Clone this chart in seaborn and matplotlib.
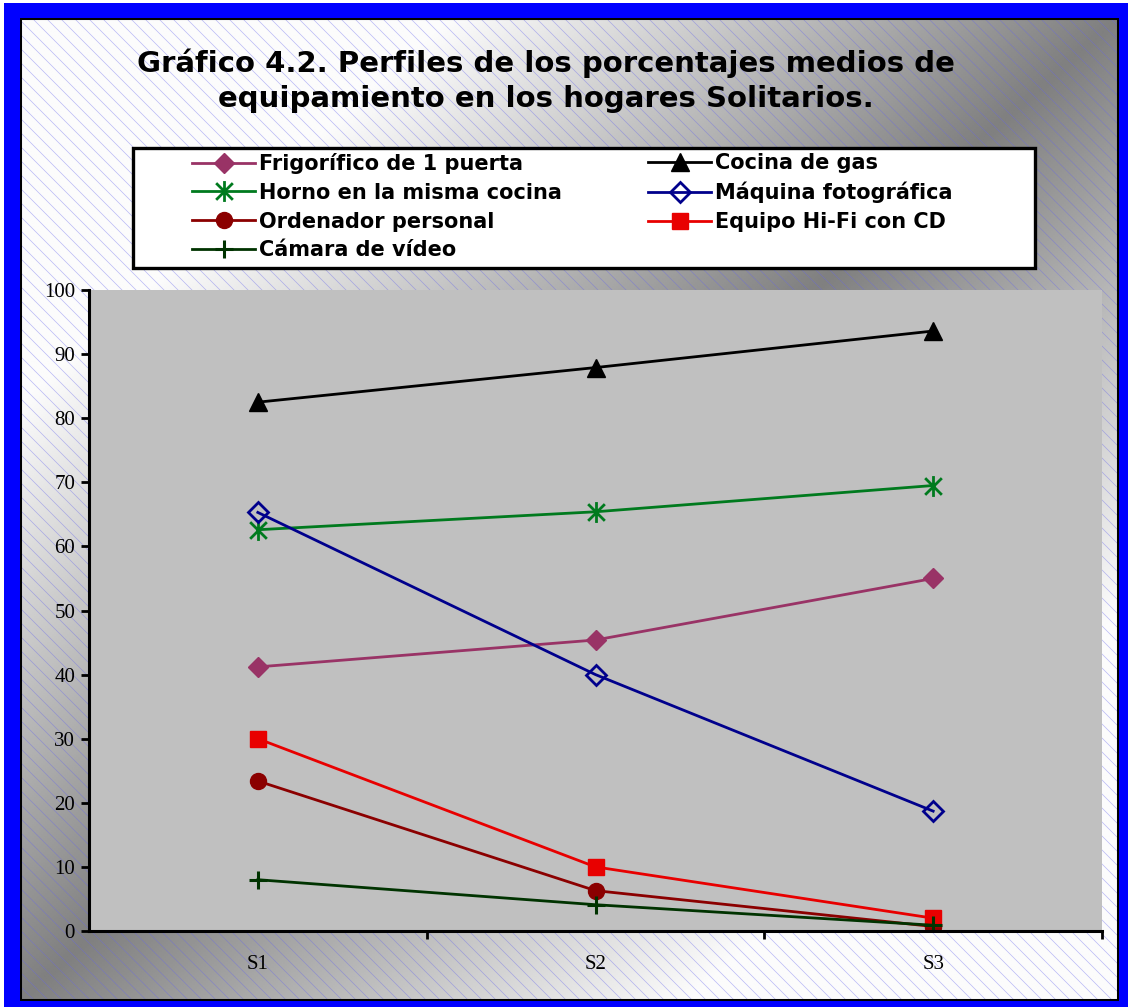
import numpy as np
import pandas as pd
import matplotlib
matplotlib.use("Agg")
import matplotlib.pyplot as plt
from matplotlib.path import Path
from matplotlib.patches import Rectangle
from matplotlib.collections import LineCollection
import seaborn as sns

# ---- data -------------------------------------------------------------
segmentos = ["S1", "S2", "S3"]

frigorifico_1_puerta = [41.2, 45.4, 55.0]
cocina_de_gas = [82.5, 87.9, 93.6]
horno_misma_cocina = [62.6, 65.4, 69.5]
maquina_fotografica = [65.3, 40.0, 18.7]
ordenador_personal = [23.4, 6.3, 0.7]
equipo_hifi_cd = [30.0, 10.0, 2.0]
camara_de_video = [8.0, 4.1, 0.9]

series_nombres = [
    "Frigorífico de 1 puerta",
    "Cocina de gas",
    "Horno en la misma cocina",
    "Máquina fotográfica",
    "Ordenador personal",
    "Equipo Hi-Fi con CD",
    "Cámara de vídeo",
]
series_valores = [
    frigorifico_1_puerta,
    cocina_de_gas,
    horno_misma_cocina,
    maquina_fotografica,
    ordenador_personal,
    equipo_hifi_cd,
    camara_de_video,
]

titulo = ("Gráfico 4.2. Perfiles de los porcentajes medios de\n"
          "equipamiento en los hogares Solitarios.")

df = pd.DataFrame(
    [(n, s, v) for n, vals in zip(series_nombres, series_valores)
     for s, v in zip(segmentos, vals)],
    columns=["serie", "segmento", "valor"],
)

# asterisk marker: vertical bar plus two diagonals
asterisco = Path(
    [(0, -1), (0, 1), (-0.8, -0.8), (0.8, 0.8), (-0.8, 0.8), (0.8, -0.8)],
    [Path.MOVETO, Path.LINETO, Path.MOVETO, Path.LINETO, Path.MOVETO, Path.LINETO],
)

estilos = {
    "Frigorífico de 1 puerta": dict(color="#993366", marker="D", ms=10.5, mfc="#993366", mec="#993366", mew=1),
    "Cocina de gas": dict(color="#000000", marker="^", ms=13, mfc="#000000", mec="#000000", mew=1),
    "Horno en la misma cocina": dict(color="#007A1E", marker=asterisco, ms=15, mfc="none", mec="#007A1E", mew=2),
    "Máquina fotográfica": dict(color="#00008C", marker="D", ms=10, mfc="none", mec="#00008C", mew=2),
    "Ordenador personal": dict(color="#8B0000", marker="o", ms=11.5, mfc="#8B0000", mec="#8B0000", mew=1),
    "Equipo Hi-Fi con CD": dict(color="#E80000", marker="s", ms=11, mfc="#E80000", mec="#E80000", mew=1),
    "Cámara de vídeo": dict(color="#003300", marker="+", ms=13.5, mfc="none", mec="#003300", mew=2.2),
}

W, H = 1128, 1007
fig = plt.figure(figsize=(W / 100, H / 100), dpi=100)
fig.patch.set_facecolor("white")

# ---- background: diagonal gradient with light hatching, framed ----------
bg = fig.add_axes([0, 0, 1, 1], zorder=0)
bg.set_xlim(0, W)
bg.set_ylim(H, 0)
bg.axis("off")

x0, y0, x1, y1 = 20, 18, 1118, 1000
gx = np.linspace(0, 1, 500)
gy = np.linspace(0, 1, 500)
GX, GY = np.meshgrid(gx, gy)
t = np.abs(GX + GY - 1.0)           # 0 along the anti-diagonal, 1 at the corners
shade = np.clip(0.50 + 0.80 * t, 0, 0.985)
bg.imshow(shade, cmap="gray", vmin=0, vmax=1, extent=(x0, x1, y1, y0),
          interpolation="bilinear", aspect="auto", zorder=0)

paso = 14
segs = []
for c in np.arange(x0 - (y1 - y0), x1 + paso, paso):
    segs.append([(c, y0), (c + (y1 - y0), y1)])
hatch = LineCollection(segs, colors="#6666EE", linewidths=0.5, alpha=0.45, zorder=1)
bg.add_collection(hatch)
hatch.set_clip_path(Rectangle((x0, y0), x1 - x0, y1 - y0, transform=bg.transData))

bg.add_patch(Rectangle((x0, y0), x1 - x0, y1 - y0, fill=False, ec="black", lw=2.2, zorder=3))
# blue outer border
azul = "#0000FF"
bg.add_patch(Rectangle((4, 3), W, 15, color=azul, lw=0, zorder=3))
bg.add_patch(Rectangle((4, 3), 15.5, H, color=azul, lw=0, zorder=3))
bg.add_patch(Rectangle((1119.2, 3), 20, H, color=azul, lw=0, zorder=3))
bg.add_patch(Rectangle((4, 1001.2), W, 20, color=azul, lw=0, zorder=3))

# legend box
bg.add_patch(Rectangle((133, 148), 1035 - 133, 268 - 148, fc="white", ec="black", lw=2.4, zorder=4))

# ---- chart ------------------------------------------------------------
ax_l, ax_r, ax_t, ax_b = 89, 1102, 290, 931
ax = fig.add_axes([ax_l / W, (H - ax_b) / H, (ax_r - ax_l) / W, (ax_b - ax_t) / H], zorder=2)
ax.set_facecolor("#C0C0C0")

for nombre in series_nombres:
    st = estilos[nombre]
    sns.lineplot(
        data=df[df["serie"] == nombre], x="segmento", y="valor", ax=ax,
        color=st["color"], linewidth=2.0, marker=st["marker"],
        markersize=st["ms"], markerfacecolor=st["mfc"], markeredgecolor=st["mec"],
        markeredgewidth=st["mew"], label=nombre, legend=False, errorbar=None,
    )

ax.set_xlim(-0.5, 2.5)
ax.set_ylim(0, 100)
ax.set_yticks(np.arange(0, 101, 10))
ax.set_xlabel("")
ax.set_ylabel("")
for s in ["top", "right"]:
    ax.spines[s].set_visible(False)
for s in ["left", "bottom"]:
    ax.spines[s].set_linewidth(2.2)
    ax.spines[s].set_color("black")
ax.tick_params(axis="y", length=6, width=2, direction="out", pad=4,
               labelsize=15, labelfontfamily="Liberation Serif")
ax.tick_params(axis="x", which="major", length=0, pad=17,
               labelsize=15, labelfontfamily="Liberation Serif")
ax.set_xticks([0.5, 1.5, 2.5], minor=True)
ax.tick_params(axis="x", which="minor", length=6, width=2, direction="out")

# ---- title ------------------------------------------------------------
fig.text(546 / W, 1 - 81 / H, titulo, ha="center", va="center",
         fontsize=21, fontweight="bold", family="DejaVu Sans",
         linespacing=1.33, color="black", zorder=5)

# ---- legend (two columns placed side by side) -------------------------
handles, labels = ax.get_legend_handles_labels()
fs = 15
prop = {"family": "DejaVu Sans", "weight": "bold", "size": fs}
common = dict(loc="upper left", frameon=False, borderpad=0, borderaxespad=0,
              handlelength=63 / (fs * 100 / 72), handletextpad=0.2,
              labelspacing=0.42, prop=prop)
col1 = [0, 2, 4, 6]
col2 = [1, 3, 5]
leg1 = fig.legend([handles[i] for i in col1], [labels[i] for i in col1],
                  bbox_to_anchor=(192 / W, 1 - 153 / H), **common)
leg2 = fig.legend([handles[i] for i in col2], [labels[i] for i in col2],
                  bbox_to_anchor=(648 / W, 1 - 153 / H), **common)
leg1.set_zorder(6)
leg2.set_zorder(6)

fig.savefig("out.png", dpi=100)
